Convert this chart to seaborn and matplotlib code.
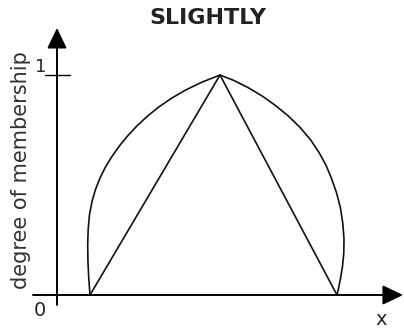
#!/usr/bin/env python3
#
# Fuzzy hedge "slightly": base triangle and the widened membership curve
#
import numpy as np
import pandas as pd
import matplotlib
matplotlib.use('Agg')
import matplotlib.pyplot as plt
import seaborn as sns

# Base triangular membership function
tri_x = [3.3, 16.3, 28.0]
tri_mu = [0.0, 1.0, 0.0]

# "Slightly" curve, left flank
left_x = [3.30, 3.17, 3.09, 3.07, 3.12, 3.25, 3.50, 3.85, 4.30, 4.85,
          5.50, 6.23, 7.04, 7.94, 8.97, 10.10, 11.40, 12.87, 14.52, 16.30]
left_mu = [0.000, 0.080, 0.160, 0.230, 0.300, 0.365, 0.425, 0.480, 0.532,
           0.582, 0.630, 0.677, 0.722, 0.766, 0.810, 0.852, 0.893, 0.932,
           0.968, 1.000]

# "Slightly" curve, right flank
right_x = [16.30, 17.70, 19.10, 20.50, 21.80, 23.10, 24.30, 25.35, 26.20,
           26.90, 27.45, 27.95, 28.35, 28.58, 28.70, 28.68, 28.55, 28.35,
           28.15, 28.00]
right_mu = [1.000, 0.975, 0.943, 0.905, 0.863, 0.815, 0.762, 0.706, 0.648,
            0.590, 0.530, 0.465, 0.395, 0.325, 0.255, 0.190, 0.130, 0.075,
            0.030, 0.000]

title = 'SLIGHTLY'
ylabel = 'degree of membership'
xlabel = 'x'

sns.set_style('white')
plt.rcParams['font.family'] = ['DejaVu Sans']

fig = plt.figure(figsize=(4.04, 3.28), dpi=100)
ax = fig.add_axes([0, 0, 1, 1])
ax.set_xlim(-5.7, 34.7)
ax.set_ylim(-0.15, 1.341)
ax.axis('off')

line = {'color': '#111111', 'linewidth': 1.2, 'sort': False,
        'estimator': None, 'ax': ax}
sns.lineplot(data=pd.DataFrame({'x': tri_x, 'mu': tri_mu}), x='x', y='mu', **line)
sns.lineplot(data=pd.DataFrame({'x': left_x, 'mu': left_mu}), x='x', y='mu', **line)
sns.lineplot(data=pd.DataFrame({'x': right_x, 'mu': right_mu}), x='x', y='mu', **line)

# Hand-drawn axes with arrow heads
arrow = dict(arrowstyle='-|>,head_length=1.25,head_width=0.6',
             mutation_scale=10, lw=1.4, color='black', shrinkA=0, shrinkB=0)
ax.annotate('', xy=(34.6, 0), xytext=(-2.4, 0), arrowprops=arrow)
ax.annotate('', xy=(0, 1.214), xytext=(0, -0.045), arrowprops=arrow)

# Tick at membership 1
ax.plot([-1.2, 1.3], [1, 1], color='black', lw=1.0)

ax.text(-1.6, 1.036, '1', ha='center', va='center', fontsize=13)
ax.text(-1.7, -0.07, '0', ha='center', va='center', fontsize=14)
ax.text(32.4, -0.112, xlabel, ha='center', va='center', fontsize=14)
ax.text(-3.6, 0.568, ylabel, ha='center', va='center', rotation=90,
        fontsize=15, color='#333333')
ax.text(15.1, 1.259, title, ha='center', va='center', fontsize=16,
        fontweight='bold', color='#222222')

fig.savefig('out.png', dpi=100)
